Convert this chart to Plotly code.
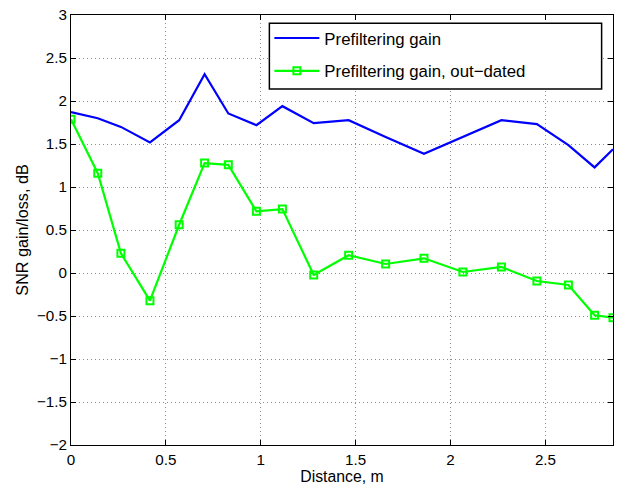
import plotly.graph_objects as go

distance = [0, 0.141, 0.263, 0.416, 0.570, 0.704, 0.829, 0.977, 1.114, 1.279,
            1.463, 1.658, 1.860, 2.065, 2.268, 2.455, 2.621, 2.759, 2.856]
gain = [1.870, 1.80, 1.699, 1.518, 1.777, 2.311, 1.855, 1.719, 1.940, 1.742,
        1.777, 1.58, 1.386, 1.58, 1.777, 1.731, 1.487, 1.228, 1.440]
gain_outdated = [1.789, 1.161, 0.229, -0.322, 0.561, 1.278, 1.258, 0.717, 0.743, -0.023,
                 0.206, 0.105, 0.171, 0.012, 0.070, -0.093, -0.139, -0.491, -0.519]

x_ticks = [0, 0.5, 1, 1.5, 2, 2.5]
y_ticks = [-2, -1.5, -1, -0.5, 0, 0.5, 1, 1.5, 2, 2.5, 3]

font = "Liberation Sans, Arial, Helvetica, sans-serif"

fig = go.Figure()
fig.add_trace(go.Scatter(x=distance, y=gain, mode="lines", name="Prefiltering gain",
                         legendgroup="a",
                         line=dict(color="#0000ff", width=2.2)))
fig.add_trace(go.Scatter(x=distance, y=gain_outdated, mode="lines+markers",
                         name="Prefiltering gain, out\u2212dated", legendgroup="b",
                         line=dict(color="#00ff00", width=2.2),
                         marker=dict(symbol="square-open", size=7, color="#00ff00",
                                     line=dict(width=2, color="#00ff00"))))

axis_common = dict(showline=True, linecolor="black", linewidth=1, mirror="ticks",
                   ticks="inside", ticklen=5, tickcolor="black", automargin=False,
                   showgrid=True, gridcolor="#8c8c8c", griddash="1px,3px", gridwidth=1,
                   zeroline=False, tickfont=dict(size=15.2, color="black", family=font))

fig.update_xaxes(range=[0, 2.856], tickvals=x_ticks,
                 ticktext=[f"{v:g}" for v in x_ticks],
                 ticklabelstandoff=1,
                 title=dict(text="Distance, m", font=dict(size=15.8, color="black", family=font),
                            standoff=0),
                 **axis_common)
fig.update_yaxes(range=[-2, 3], tickvals=y_ticks,
                 ticktext=[f"{v:g}".replace("-", "\u2212") for v in y_ticks],
                 title=dict(text="SNR gain/loss, dB", font=dict(size=16.2, color="black", family=font),
                            standoff=4),
                 **axis_common)

fig.add_shape(type="rect", xref="paper", yref="paper",
              x0=0.366, x1=0.979, y0=0.828, y1=0.981,
              line=dict(color="black", width=1.5), fillcolor="white", layer="above")

fig.update_layout(
    width=626, height=486,
    margin=dict(l=71, r=13, t=15, b=41),
    plot_bgcolor="white", paper_bgcolor="white",
    font=dict(family=font, size=15, color="black"),
    showlegend=True,
    legend=dict(x=0.366, y=0.987, xanchor="left", yanchor="top",
                bgcolor="rgba(0,0,0,0)", borderwidth=0,
                font=dict(size=16.8, family=font, color="black"),
                itemwidth=45, tracegroupgap=8),
)

fig.write_html("out.html")
